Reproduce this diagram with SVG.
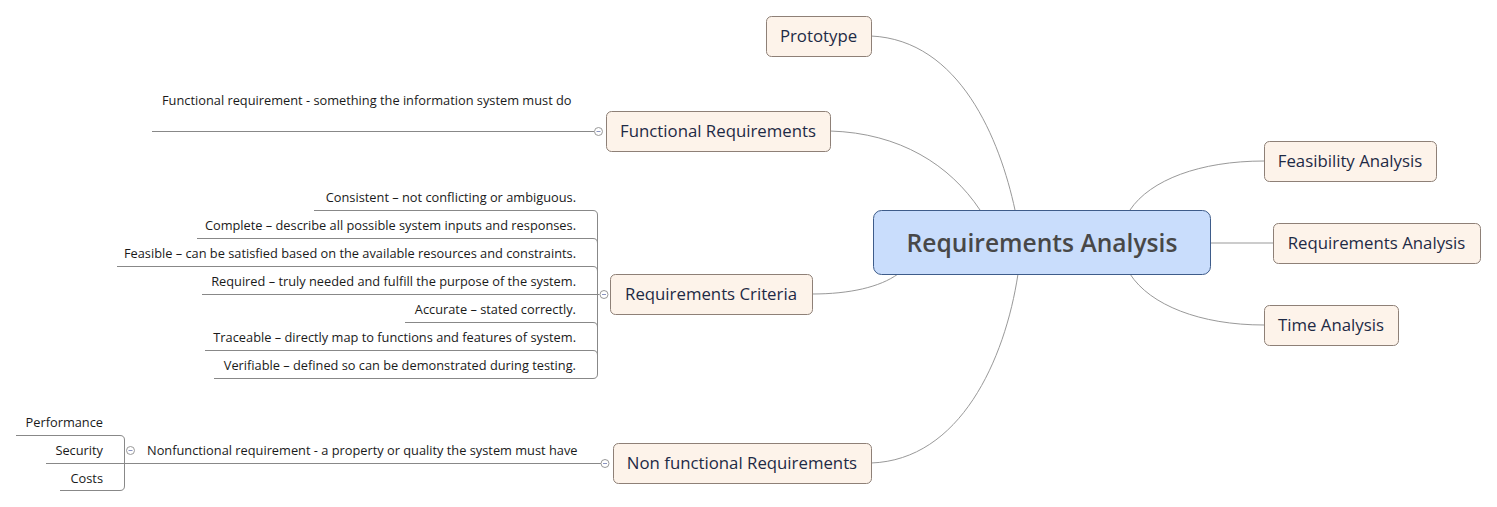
<svg xmlns="http://www.w3.org/2000/svg" width="1497" height="507" viewBox="0 0 1497 507">
<style>
.node rect{fill:#fdf3ea;stroke:#8e8077;stroke-width:1}
.node text{font-family:"Open Sans","Noto Sans",sans-serif;font-size:16.8px;fill:#1e2a45;text-anchor:middle;dominant-baseline:central}
.root rect{fill:#c9ddfc;stroke:#3e5c8a;stroke-width:1}
.root text{font-family:"Open Sans","Noto Sans",sans-serif;font-size:24.6px;font-weight:600;fill:#484848;text-anchor:middle;dominant-baseline:central}
.conn path,.conn line{fill:none;stroke:#999;stroke-width:1}
.sub path,.sub line{fill:none;stroke:#888;stroke-width:1}
.lbl{font-family:"Open Sans","Noto Sans",sans-serif;font-size:12.8px;fill:#1a1a1a;dominant-baseline:central}
.r{text-anchor:end}
.tog circle{fill:#fff;stroke:#999;stroke-width:1}
.tog line{stroke:#8a94c0;stroke-width:1}
</style>
<g id="connectors" class="conn">
<path d="M871,36 C960,40 1000,140 1015,210"/>
<path d="M830,131 C900,133 950,165 980,210"/>
<path d="M812,294 C850,294 880,287 898,274"/>
<path d="M871,463 C960,460 1005,360 1018,274"/>
<path d="M1130,210 C1150,180 1200,161 1264,161"/>
<line x1="1210" y1="243" x2="1273" y2="243"/>
<path d="M1130,274 C1150,305 1200,325 1264,325"/>
</g>
<g id="root" class="root">
<rect x="873.5" y="210.5" width="337" height="64" rx="8"/>
<text x="1042" y="242.5">Requirements Analysis</text>
</g>
<g id="prototype" class="node">
<rect x="766.5" y="16.5" width="105" height="40" rx="5"/>
<text x="818.5" y="35.5">Prototype</text>
</g>
<g id="functional" class="node">
<rect x="606.5" y="111.5" width="224" height="40" rx="5"/>
<text x="718" y="130.5">Functional Requirements</text>
</g>
<g id="criteria" class="node">
<rect x="610.5" y="274.5" width="202" height="40" rx="5"/>
<text x="711" y="293.5">Requirements Criteria</text>
</g>
<g id="nonfunctional" class="node">
<rect x="613.5" y="443.5" width="258" height="40" rx="5"/>
<text x="742" y="462.5">Non functional Requirements</text>
</g>
<g id="feasibility" class="node">
<rect x="1264.5" y="141.5" width="172" height="40" rx="5"/>
<text x="1350" y="160.5">Feasibility Analysis</text>
</g>
<g id="reqanalysis" class="node">
<rect x="1273.5" y="223.5" width="207" height="40" rx="5"/>
<text x="1376.5" y="242.5">Requirements Analysis</text>
</g>
<g id="time" class="node">
<rect x="1264.5" y="305.5" width="134" height="40" rx="5"/>
<text x="1331" y="324.5">Time Analysis</text>
</g>
<g id="functional-detail" class="sub">
<line x1="152" y1="131.5" x2="594" y2="131.5"/>
<text class="lbl" x="162" y="100">Functional requirement - something the information system must do</text>
<g class="tog"><circle cx="598.5" cy="131.5" r="4"/><line x1="596.5" y1="131.5" x2="600.5" y2="131.5"/></g>
</g>
<g id="criteria-detail" class="sub">
<path d="M314,210.5 H593 Q597.5,210.5 597.5,215 V374 Q597.5,378.5 593,378.5 H214"/>
<path d="M197,238.5 H593 Q597.5,238.5 597.5,243"/>
<path d="M117,266.5 H593 Q597.5,266.5 597.5,271"/>
<path d="M202,294.5 H599.5"/>
<path d="M405,322.5 H593 Q597.5,322.5 597.5,327"/>
<path d="M205,350.5 H593 Q597.5,350.5 597.5,355"/>
<text class="lbl r" x="576" y="197">Consistent – not conflicting or ambiguous.</text>
<text class="lbl r" x="576" y="225">Complete – describe all possible system inputs and responses.</text>
<text class="lbl r" x="576" y="253">Feasible – can be satisfied based on the available resources and constraints.</text>
<text class="lbl r" x="576" y="281">Required – truly needed and fulfill the purpose of the system.</text>
<text class="lbl r" x="576" y="309">Accurate – stated correctly.</text>
<text class="lbl r" x="576" y="337">Traceable – directly map to functions and features of system.</text>
<text class="lbl r" x="576" y="365">Verifiable – defined so can be demonstrated during testing.</text>
<g class="tog"><circle cx="604" cy="294.5" r="4"/><line x1="602" y1="294.5" x2="606" y2="294.5"/></g>
</g>
<g id="nonfunctional-detail" class="sub">
<line x1="46" y1="463.5" x2="601" y2="463.5"/>
<path d="M16,435.5 H120 Q124.5,435.5 124.5,440 V486 Q124.5,490.5 120,490.5 H60"/>
<text class="lbl" x="147" y="450">Nonfunctional requirement - a property or quality the system must have</text>
<text class="lbl r" x="103" y="422">Performance</text>
<text class="lbl r" x="103" y="450">Security</text>
<text class="lbl r" x="103" y="478">Costs</text>
<g class="tog"><circle cx="130.5" cy="450.5" r="4"/><line x1="128.5" y1="450.5" x2="132.5" y2="450.5"/></g>
<g class="tog"><circle cx="605" cy="463.5" r="4"/><line x1="603" y1="463.5" x2="607" y2="463.5"/></g>
</g>
</svg>
